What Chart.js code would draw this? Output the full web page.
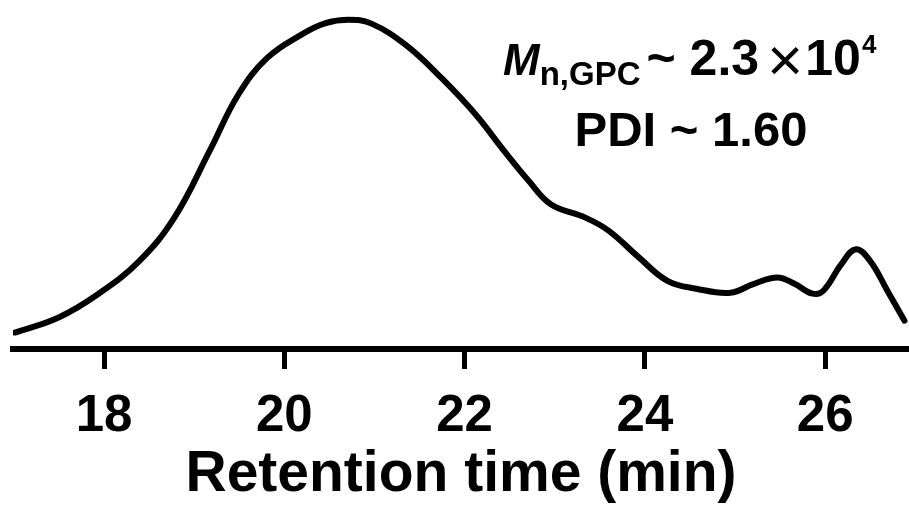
<!DOCTYPE html>
<html>
<head>
<meta charset="utf-8">
<script src="https://cdn.jsdelivr.net/npm/chart.js@4.4.0/dist/chart.umd.min.js"></script>
<style>
  html, body { margin: 0; padding: 0; background: #fff; }
  #wrap { width: 909px; height: 506px; }
</style>
</head>
<body>
<div id="wrap"><canvas id="gpcChart" width="909" height="506"></canvas></div>
<script>
// GPC trace (retention time in min, normalised detector signal)
const retentionTime = [
  17.01, 17.49, 17.94, 18.39, 18.78, 19.17, 19.49, 19.81, 20.19, 20.45,
  20.71, 20.96, 21.35, 21.74, 22.12, 22.44, 22.71, 22.96, 23.34, 23.60,
  23.93, 24.25, 24.57, 24.95, 25.21, 25.47, 25.66, 25.86, 25.98, 26.18,
  26.34, 26.50, 26.69, 26.88
];
const intensity = [
  0.050, 0.095, 0.168, 0.267, 0.399, 0.601, 0.773, 0.884, 0.955, 0.989,
  1.000, 0.989, 0.923, 0.824, 0.713, 0.601, 0.511, 0.439, 0.399, 0.359,
  0.279, 0.207, 0.183, 0.171, 0.198, 0.217, 0.198, 0.168, 0.177, 0.258,
  0.303, 0.267, 0.177, 0.086
];
const tickValues = [18, 20, 22, 24, 26];
const axisTitle = "Retention time (min)";
const mnLabel = { symbol: "M", sub: "n,GPC", value: "~ 2.3", times: "\u00D7", base: "10", exp: "4" };
const pdiLabel = "PDI ~ 1.60";

const FONT = "'Liberation Sans', Arial, Helvetica, sans-serif";

// draws the Mn / PDI annotation in the upper right
const annotationPlugin = {
  id: "gpcAnnotation",
  afterDraw(chart) {
    const ctx = chart.ctx;
    ctx.save();
    ctx.fillStyle = "#000";
    ctx.textBaseline = "alphabetic";
    ctx.textAlign = "left";

    const y1 = 75;
    const parts = [
      { text: mnLabel.symbol, font: "italic bold 44px " + FONT, dy: 0, gap: 0 },
      { text: mnLabel.sub, font: "bold 33px " + FONT, dy: 10, gap: 6 },
      { text: mnLabel.value, font: "bold 50px " + FONT, dy: 0, gap: 8 },
      { text: mnLabel.times, font: "62px " + FONT, dy: 6, gap: 2 },
      { text: mnLabel.base, font: "bold 50px " + FONT, dy: 0, gap: 1 },
      { text: mnLabel.exp, font: "bold 26px " + FONT, dy: -22, gap: 0 }
    ];
    let x = 503;
    parts.forEach((p) => {
      ctx.font = p.font;
      ctx.fillText(p.text, x, y1 + p.dy);
      x += ctx.measureText(p.text).width + p.gap;
    });

    ctx.font = "bold 49px " + FONT;
    ctx.textAlign = "center";
    ctx.fillText(pdiLabel, 691, 146);
    ctx.restore();
  }
};

const ctx = document.getElementById("gpcChart").getContext("2d");

new Chart(ctx, {
  type: "line",
  data: {
    datasets: [
      {
        data: retentionTime.map((t, i) => ({ x: t, y: intensity[i] })),
        borderColor: "#000",
        borderWidth: 6,
        pointRadius: 0,
        fill: false,
        tension: 0.4,
        borderCapStyle: "round",
        borderJoinStyle: "round"
      }
    ]
  },
  options: {
    responsive: false,
    animation: false,
    events: [],
    layout: {
      padding: { left: 13, right: 0, top: 0, bottom: 0 }
    },
    plugins: {
      legend: { display: false },
      tooltip: { enabled: false }
    },
    scales: {
      x: {
        type: "linear",
        min: 16.99,
        max: 26.93,
        afterBuildTicks: (scale) => {
          scale.ticks = tickValues.map((v) => ({ value: v }));
        },
        border: { display: true, color: "#000", width: 6 },
        grid: {
          drawOnChartArea: false,
          drawTicks: true,
          tickLength: 20,
          tickWidth: 5,
          tickColor: "#000"
        },
        ticks: {
          color: "#000",
          padding: 22,
          maxRotation: 0,
          font: { family: FONT, size: 51, weight: "bold", lineHeight: 1 },
          callback: (v) => String(v)
        },
        title: {
          display: true,
          text: axisTitle,
          color: "#000",
          font: { family: FONT, size: 57, weight: "bold", lineHeight: 1 },
          padding: { top: -17, bottom: 2 }
        }
      },
      y: {
        display: false,
        min: 0,
        max: 1.06
      }
    }
  },
  plugins: [annotationPlugin]
});
</script>
</body>
</html>
